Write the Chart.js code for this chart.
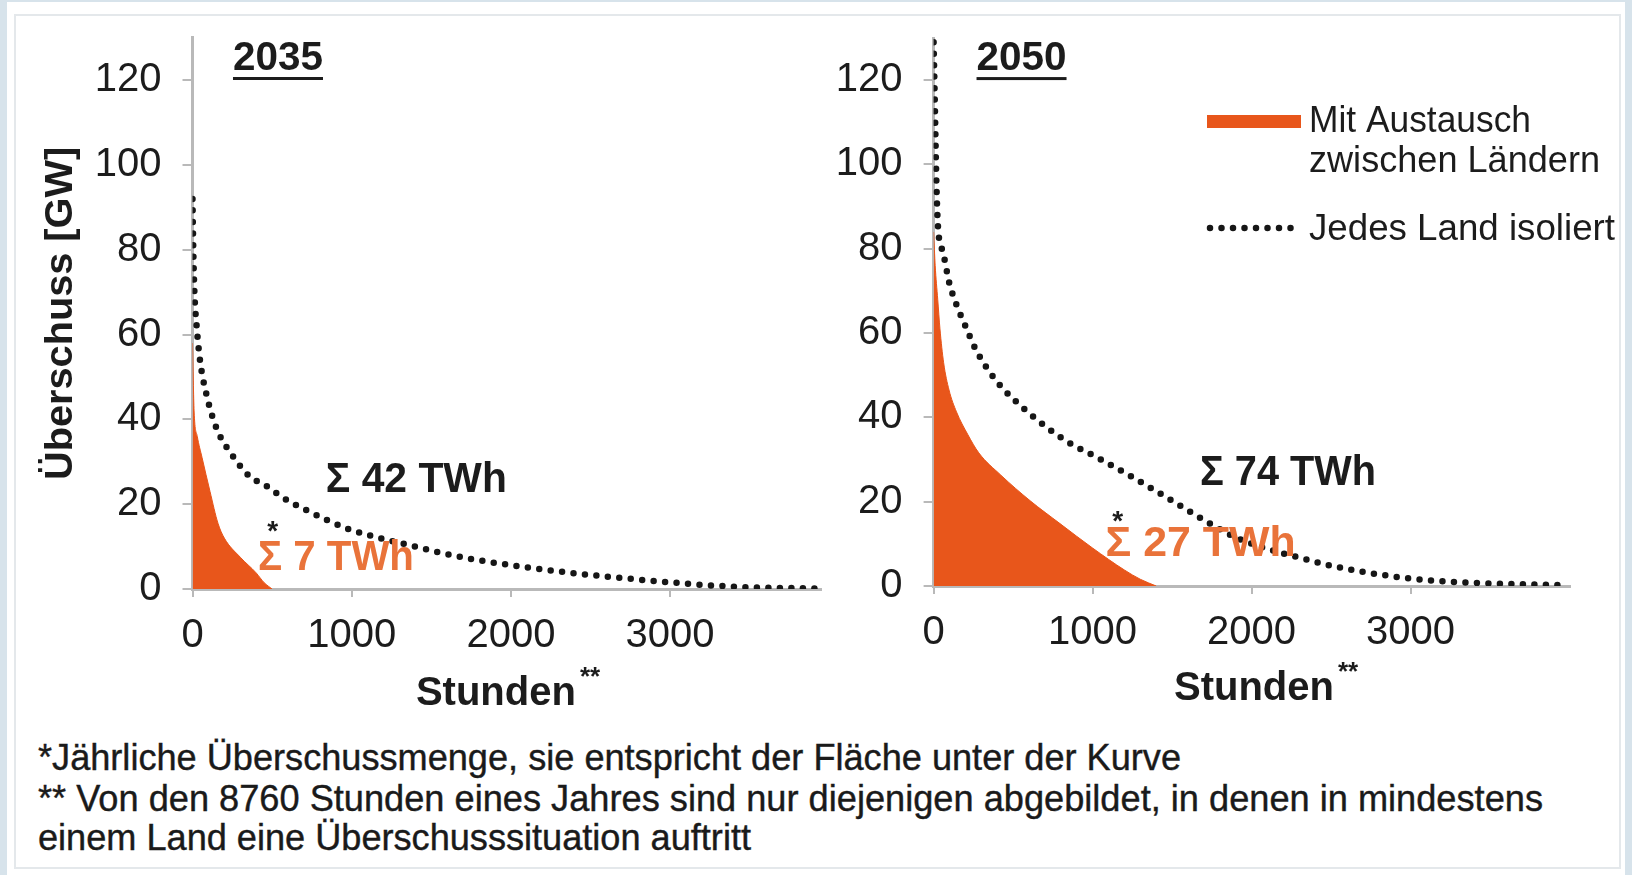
<!DOCTYPE html>
<html lang="de">
<head>
<meta charset="utf-8">
<title>Überschuss 2035 / 2050</title>
<script src="https://cdn.jsdelivr.net/npm/chart.js@4.4.1/dist/chart.umd.min.js"></script>
<style>
    html, body { margin: 0; padding: 0; }
    body { width: 1632px; height: 875px; position: relative; overflow: hidden; background: #d7e3eb; font-family: 'Liberation Sans', Arial, sans-serif; }
    #panel { position: absolute; left: 7px; top: 2px; width: 1618px; height: 873px; background: #fff; }
    #frame { position: absolute; left: 14px; top: 14px; width: 1603px; height: 851px; border: 2px solid #e4e8eb; }
    canvas { position: absolute; top: 0; }
    #c2035 { left: 0; }
    #c2050 { left: 830px; }
    .fn { position: absolute; left: 38px; height: 40px; line-height: 40px; font-size: 36px; color: #1a1a1a; white-space: nowrap; transform-origin: left center; -webkit-text-stroke: 0.4px #1a1a1a; }
</style>
</head>
<body>
<div id="panel"></div>
<div id="frame"></div>
<canvas id="c2035" width="830" height="720"></canvas>
<canvas id="c2050" width="802" height="720"></canvas>
<div class="fn" id="fn1" style="top:738px">*Jährliche Überschussmenge, sie entspricht der Fläche unter der Kurve</div>
<div class="fn" id="fn2" style="top:779px">** Von den 8760 Stunden eines Jahres sind nur diejenigen abgebildet, in denen in mindestens</div>
<div class="fn" id="fn3" style="top:818px">einem Land eine Überschusssituation auftritt</div>
<script>
(function() {
    'use strict';

    // ========== DATEN ==========
    const jahre = ['2035', '2050'];
    const stundenTicks = [0, 1000, 2000, 3000];
    const gwTicks = [0, 20, 40, 60, 80, 100, 120];

    const stunden2035Isoliert = [0, 5, 12, 26, 47, 90, 150, 260, 360, 455, 570, 720, 990, 1200, 1356, 1555, 1780, 2310, 2840, 3370, 3926];
    const gw2035Isoliert      = [92, 80, 70, 62, 54, 45.5, 38, 31, 26.5, 24.5, 21.5, 18.5, 14, 11.8, 10.4, 8.6, 6.9, 4.1, 2.1, 0.6, 0.1];
    const stunden2035Austausch = [0, 10, 30, 60, 110, 160, 200, 300, 400, 450, 500];
    const gw2035Austausch      = [58, 42, 36, 31, 23, 15.5, 12, 7.5, 3.8, 1.5, 0];

    const stunden2050Isoliert = [0, 6, 12, 18, 28, 45, 63, 98, 144, 202, 260, 330, 423, 540, 679, 842, 1028, 1256, 1466, 1676, 1884, 2100, 2304, 2514, 2724, 3038, 3353, 3700, 3971];
    const gw2050Isoliert      = [129, 118, 106, 95, 85, 81, 78.5, 72, 66.7, 61.5, 56.5, 52, 47.4, 43, 38.6, 34.2, 30.5, 25.7, 21, 16.2, 11.8, 8.8, 6.7, 4.7, 3.2, 1.6, 0.8, 0.4, 0.2];
    const stunden2050Austausch = [0, 10, 26, 40, 63, 97, 144, 214, 284, 423, 608, 795, 1000, 1200, 1300, 1400];
    const gw2050Austausch      = [84, 76, 68, 61, 53, 46.5, 41.3, 36, 31.6, 26.3, 20.2, 14.8, 9, 3.8, 1.6, 0];

    const summeIsoliert = ['Σ 42 TWh', 'Σ 74 TWh'];
    const summeAustausch = ['Σ 7 TWh', 'Σ 27 TWh'];

    const FONT = "'Liberation Sans', Arial, Helvetica, sans-serif";
    const ORANGE = '#e8561b';
    const ORANGE_TEXT = '#e9733a';
    const AXIS = '#b9b9b9';
    const INK = '#1c1c1c';

    const zip = (xs, ys) => xs.map((x, i) => ({ x: x, y: ys[i] }));

    // ========== TEXT ==========
    function putText(ctx, t, px, py) {
        ctx.save();
        ctx.font = (t.bold ? 'bold ' : '') + t.size + 'px ' + FONT;
        const w = ctx.measureText(t.text).width;
        const sx = t.width ? t.width / w : 1;
        ctx.translate(px, py);
        if (t.rotate) ctx.rotate(t.rotate);
        ctx.scale(sx, 1);
        ctx.fillStyle = t.color || INK;
        ctx.textAlign = t.align || 'center';
        ctx.textBaseline = 'middle';
        ctx.fillText(t.text, 0, 0);
        if (t.underline) ctx.fillRect(-w / 2, t.size * 0.45, w, 3);
        ctx.restore();
        return w * sx;
    }

    const notesPlugin = {
        id: 'notes',
        afterDatasetsDraw(chart, args, opts) {
            const { ctx, chartArea: area, scales: { x, y } } = chart;

            (opts.items || []).forEach(t => {
                putText(ctx, t, x.getPixelForValue(t.h), y.getPixelForValue(t.v));
            });

            // Achsentitel "Stunden**"
            const sx = x.getPixelForValue(opts.stunden.h);
            const sy = y.getPixelForValue(opts.stunden.v);
            const w = putText(ctx, { text: 'Stunden', size: 40, bold: true, width: 160 }, sx, sy);
            putText(ctx, { text: '**', size: 26, bold: true, align: 'left' }, sx + w / 2 + 4, sy - 16);

            if (opts.yTitle) {
                putText(ctx, { text: 'Überschuss [GW]', size: 38, bold: true, width: 333, rotate: -Math.PI / 2 },
                    area.left - 131, (area.top + area.bottom) / 2);
            }

            if (opts.legend) {
                const iso = chart.data.datasets[0];
                const mit = chart.data.datasets[1];
                ctx.fillStyle = mit.backgroundColor;
                ctx.fillRect(377, 115, 94, 13);
                const widths = [222, 291];
                mit.label.split('\n').forEach((line, i) => {
                    putText(ctx, { text: line, size: 37, align: 'left', width: widths[i] }, 479, 122 + i * 40);
                });
                ctx.save();
                ctx.strokeStyle = iso.borderColor;
                ctx.lineWidth = iso.borderWidth;
                ctx.lineCap = 'round';
                ctx.setLineDash(iso.borderDash);
                ctx.beginPath();
                ctx.moveTo(380, 228);
                ctx.lineTo(466, 228);
                ctx.stroke();
                ctx.restore();
                putText(ctx, { text: iso.label, size: 37, align: 'left', width: 306 }, 479, 230);
            }
        }
    };

    // ========== DIAGRAMM ==========
    function makeChart(id, cfg) {
        const ctx = document.getElementById(id);
        return new Chart(ctx, {
            type: 'line',
            data: {
                datasets: [{
                    label: 'Jedes Land isoliert',
                    data: zip(cfg.isoH, cfg.isoV),
                    borderColor: '#161616',
                    borderWidth: 6.5,
                    borderDash: [0, 11.5],
                    borderCapStyle: 'round',
                    pointRadius: 0,
                    fill: false,
                    cubicInterpolationMode: 'monotone',
                    order: 0
                }, {
                    label: 'Mit Austausch\nzwischen Ländern',
                    data: zip(cfg.mitH, cfg.mitV),
                    borderColor: ORANGE,
                    backgroundColor: ORANGE,
                    borderWidth: 1,
                    pointRadius: 0,
                    fill: 'origin',
                    cubicInterpolationMode: 'monotone',
                    order: 1
                }]
            },
            options: {
                responsive: false,
                animation: false,
                events: [],
                layout: { padding: cfg.padding },
                plugins: {
                    legend: { display: false },
                    tooltip: { enabled: false },
                    notes: cfg.notes
                },
                scales: {
                    x: {
                        type: 'linear',
                        min: 0,
                        max: cfg.xMax,
                        afterBuildTicks: s => { s.ticks = stundenTicks.map(v => ({ value: v })); },
                        afterFit: s => { s.height = 100; s.paddingLeft = 0; s.paddingRight = 0; },
                        grid: { drawOnChartArea: false, drawTicks: true, tickLength: 8, color: AXIS, lineWidth: 2 },
                        border: { color: AXIS, width: 3 },
                        ticks: {
                            font: { family: FONT, size: 40 }, color: INK, padding: 15,
                            maxRotation: 0, autoSkip: false,
                            callback: v => String(v)
                        }
                    },
                    y: {
                        min: 0,
                        max: 130,
                        afterBuildTicks: s => { s.ticks = gwTicks.map(v => ({ value: v })); },
                        afterFit: s => { s.width = cfg.yWidth; s.paddingTop = 0; s.paddingBottom = 0; },
                        grid: { drawOnChartArea: false, drawTicks: true, tickLength: 10, color: AXIS, lineWidth: 2 },
                        border: { color: AXIS, width: 3 },
                        ticks: { font: { family: FONT, size: 40 }, color: INK, padding: 21, callback: v => String(v) }
                    }
                }
            },
            plugins: [notesPlugin]
        });
    }

    makeChart('c2035', {
        isoH: stunden2035Isoliert, isoV: gw2035Isoliert,
        mitH: stunden2035Austausch, mitV: gw2035Austausch,
        xMax: 3950, yWidth: 150,
        padding: { left: 42.5, right: 8.7, top: 37.8, bottom: 31 },
        notes: {
            yTitle: true,
            stunden: { h: 1906, v: -24.8 },
            items: [
                { text: jahre[0], h: 537, v: 125, size: 40, bold: true, underline: true, width: 90 },
                { text: summeIsoliert[0], h: 1406, v: 25.7, size: 42, bold: true, width: 181 },
                { text: summeAustausch[0], h: 901, v: 7.1, size: 42, bold: true, width: 156, color: ORANGE_TEXT },
                { text: '*', h: 504, v: 13.4, size: 28, bold: true }
            ]
        }
    });

    makeChart('c2050', {
        isoH: stunden2050Isoliert, isoV: gw2050Isoliert,
        mitH: stunden2050Austausch, mitV: gw2050Austausch,
        xMax: 4000, yWidth: 100,
        padding: { left: 3.6, right: 62.4, top: 38, bottom: 34 },
        notes: {
            legend: true,
            stunden: { h: 2015, v: -24.4 },
            items: [
                { text: jahre[1], h: 553, v: 125, size: 40, bold: true, underline: true, width: 90 },
                { text: summeIsoliert[1], h: 2229, v: 26.7, size: 42, bold: true, width: 176 },
                { text: summeAustausch[1], h: 1679, v: 9.9, size: 42, bold: true, width: 190, color: ORANGE_TEXT },
                { text: '*', h: 1158, v: 15, size: 28, bold: true }
            ]
        }
    });

    // ========== FUSSNOTEN ==========
    [['fn1', 1143], ['fn2', 1505], ['fn3', 713]].forEach(([id, target]) => {
        const el = document.getElementById(id);
        const w = el.getBoundingClientRect().width;
        el.style.transform = 'scaleX(' + (target / w) + ')';
    });
})();
</script>
</body>
</html>
